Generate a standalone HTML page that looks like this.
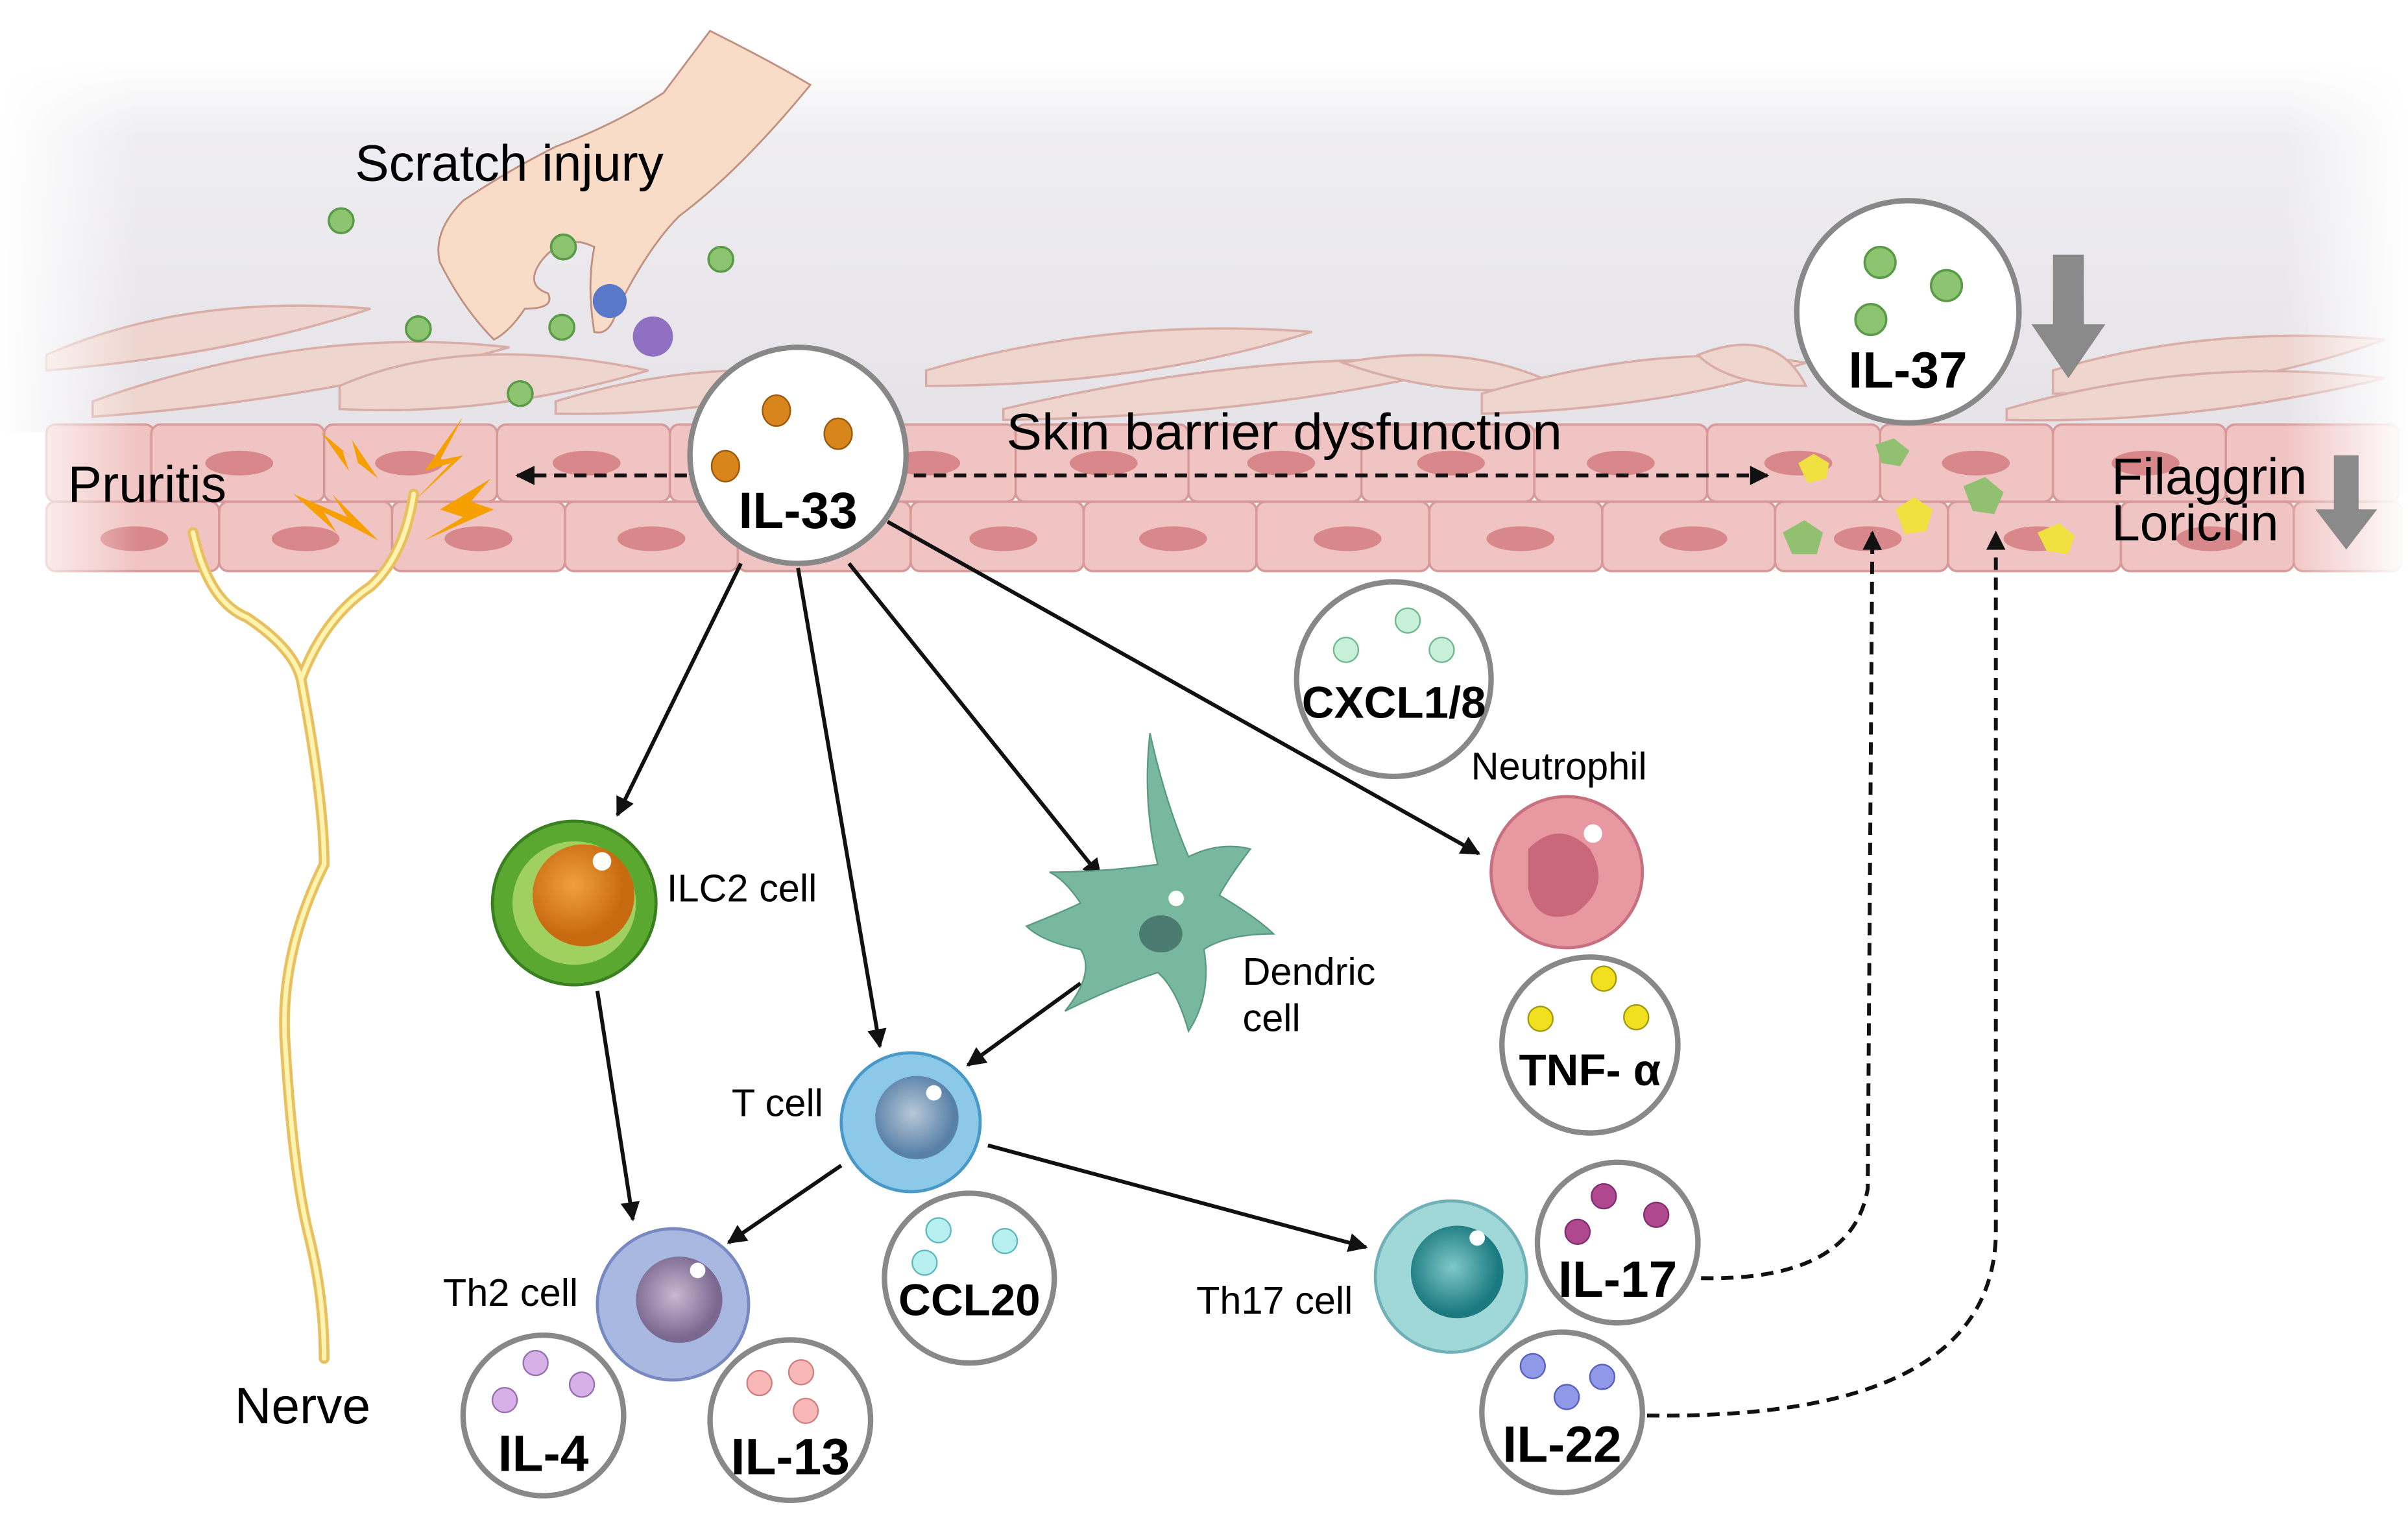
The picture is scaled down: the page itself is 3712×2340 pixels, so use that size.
<!DOCTYPE html>
<html><head><meta charset="utf-8"><style>
html,body{margin:0;padding:0;background:#fff;width:3712px;height:2340px;overflow:hidden}
svg{display:block}
text{font-family:"Liberation Sans",Arial,sans-serif}
</style></head><body>
<svg width="3712" height="2340" viewBox="0 0 1560 983.4" preserveAspectRatio="none" xmlns="http://www.w3.org/2000/svg">
<defs>
<linearGradient id="bg" x1="0" y1="0" x2="0" y2="1">
<stop offset="0" stop-color="#fff"/><stop offset="0.2" stop-color="#eeedf0"/><stop offset="1" stop-color="#e6e3e8"/></linearGradient>
<linearGradient id="fadeL" x1="0" y1="0" x2="1" y2="0"><stop offset="0" stop-color="#fff" stop-opacity="1"/><stop offset="1" stop-color="#fff" stop-opacity="0"/></linearGradient>
<linearGradient id="fadeR" x1="1" y1="0" x2="0" y2="0"><stop offset="0" stop-color="#fff" stop-opacity="1"/><stop offset="1" stop-color="#fff" stop-opacity="0"/></linearGradient>
<radialGradient id="ilc" cx="0.4" cy="0.4"><stop offset="0" stop-color="#f0a040"/><stop offset="1" stop-color="#c86a10"/></radialGradient>
<radialGradient id="tc" cx="0.45" cy="0.45"><stop offset="0" stop-color="#b8c8d8"/><stop offset="1" stop-color="#5880a8"/></radialGradient>
<radialGradient id="th2" cx="0.45" cy="0.45"><stop offset="0" stop-color="#c8b8d0"/><stop offset="1" stop-color="#7a6890"/></radialGradient>
<radialGradient id="th17" cx="0.45" cy="0.45"><stop offset="0" stop-color="#80c8c8"/><stop offset="1" stop-color="#1a7a80"/></radialGradient>
<marker id="ah" viewBox="0 0 10 10" refX="9" refY="5" markerWidth="5" markerHeight="5" orient="auto-start-reverse"><path d="M0,0L10,5L0,10z" fill="#111"/></marker>
</defs>
<rect x="0" y="40" width="1560" height="240" fill="url(#bg)"/>
<g fill="#efd4cc" stroke="#d8a8a0" stroke-width="1.5" opacity="0.9">
<path d="M30,230 Q120,190 240,200 Q150,230 30,240z"/>
<path d="M60,260 Q200,210 330,225 Q200,260 60,270z"/>
<path d="M220,250 Q300,215 420,240 Q320,270 220,265z"/>
<path d="M360,260 Q460,230 540,245 Q460,270 360,268z"/>
<path d="M600,240 Q720,205 850,215 Q740,250 600,250z"/>
<path d="M650,265 Q820,225 960,235 Q820,270 650,272z"/>
<path d="M870,235 Q950,220 1010,250 Q940,260 870,235z"/>
<path d="M960,255 Q1080,220 1170,235 Q1080,265 960,268z"/>
<path d="M1100,230 Q1150,210 1170,250 Q1120,250 1100,230z"/>
<path d="M1330,240 Q1430,210 1545,220 Q1450,255 1330,255z"/>
<path d="M1300,265 Q1420,230 1545,245 Q1420,275 1300,272z"/>
</g>
<g fill="#f0c4c2" stroke="#d89a98" stroke-width="1.5">
<rect x="30" y="275" width="70" height="50" rx="6"/><rect x="98" y="275" width="112" height="50" rx="6"/><rect x="210" y="275" width="112" height="50" rx="6"/><rect x="322" y="275" width="112" height="50" rx="6"/><rect x="434" y="275" width="112" height="50" rx="6"/><rect x="546" y="275" width="112" height="50" rx="6"/><rect x="658" y="275" width="112" height="50" rx="6"/><rect x="770" y="275" width="112" height="50" rx="6"/><rect x="882" y="275" width="112" height="50" rx="6"/><rect x="994" y="275" width="112" height="50" rx="6"/><rect x="1106" y="275" width="112" height="50" rx="6"/><rect x="1218" y="275" width="112" height="50" rx="6"/><rect x="1330" y="275" width="112" height="50" rx="6"/><rect x="1442" y="275" width="112" height="50" rx="6"/>
<rect x="30" y="325" width="112" height="45" rx="6"/><rect x="142" y="325" width="112" height="45" rx="6"/><rect x="254" y="325" width="112" height="45" rx="6"/><rect x="366" y="325" width="112" height="45" rx="6"/><rect x="478" y="325" width="112" height="45" rx="6"/><rect x="590" y="325" width="112" height="45" rx="6"/><rect x="702" y="325" width="112" height="45" rx="6"/><rect x="814" y="325" width="112" height="45" rx="6"/><rect x="926" y="325" width="112" height="45" rx="6"/><rect x="1038" y="325" width="112" height="45" rx="6"/><rect x="1150" y="325" width="112" height="45" rx="6"/><rect x="1262" y="325" width="112" height="45" rx="6"/><rect x="1374" y="325" width="112" height="45" rx="6"/><rect x="1486" y="325" width="70" height="45" rx="6"/>
</g>
<g fill="#d8888a">
<ellipse cx="155" cy="300" rx="22" ry="8"/><ellipse cx="265" cy="300" rx="22" ry="8"/><ellipse cx="380" cy="300" rx="22" ry="8"/><ellipse cx="600" cy="300" rx="22" ry="8"/><ellipse cx="715" cy="300" rx="22" ry="8"/><ellipse cx="830" cy="300" rx="22" ry="8"/><ellipse cx="940" cy="300" rx="22" ry="8"/><ellipse cx="1050" cy="300" rx="22" ry="8"/><ellipse cx="1165" cy="300" rx="22" ry="8"/><ellipse cx="1280" cy="300" rx="22" ry="8"/><ellipse cx="1390" cy="300" rx="22" ry="8"/>
<ellipse cx="87" cy="349" rx="22" ry="8"/><ellipse cx="198" cy="349" rx="22" ry="8"/><ellipse cx="310" cy="349" rx="22" ry="8"/><ellipse cx="422" cy="349" rx="22" ry="8"/><ellipse cx="650" cy="349" rx="22" ry="8"/><ellipse cx="760" cy="349" rx="22" ry="8"/><ellipse cx="873" cy="349" rx="22" ry="8"/><ellipse cx="985" cy="349" rx="22" ry="8"/><ellipse cx="1097" cy="349" rx="22" ry="8"/><ellipse cx="1210" cy="349" rx="22" ry="8"/><ellipse cx="1320" cy="349" rx="22" ry="8"/><ellipse cx="1432" cy="349" rx="22" ry="8"/>
</g>
<rect x="0" y="40" width="90" height="340" fill="url(#fadeL)"/>
<rect x="1480" y="40" width="80" height="340" fill="url(#fadeR)"/>
<path d="M460,20 Q500,40 525,55 Q480,110 440,140 Q420,160 400,200 Q395,218 385,215 Q380,185 385,160 Q365,150 350,170 Q340,185 355,190 Q360,200 340,200 Q330,215 320,220 Q300,200 285,170 Q280,150 300,130 Q330,110 360,95 Q400,80 430,60z" fill="#f8dcc8" stroke="#c09080" stroke-width="1.2"/>
<g fill="#8cc470" stroke="#5a9a48" stroke-width="1.5">
<circle cx="221" cy="143" r="8"/><circle cx="365" cy="160" r="8"/><circle cx="467" cy="168" r="8"/><circle cx="271" cy="213" r="8"/><circle cx="364" cy="212" r="8"/><circle cx="337" cy="255" r="8"/>
</g>
<circle cx="395" cy="195" r="11" fill="#5a78c8"/><circle cx="423" cy="218" r="13" fill="#9070c0"/>
<g fill="#f5a000"><path d="M208,280 L232,300 L228,285 L245,310 L222,292 L226,305z"/><path d="M300,270 L275,305 L292,300 L268,325 L300,295 L285,298z"/><path d="M190,320 L225,335 L215,320 L245,350 L210,332 L218,345z"/><path d="M318,310 L285,330 L300,335 L275,350 L320,330 L305,325z"/></g>
<g fill="none" stroke="#e8c060" stroke-width="7" stroke-linecap="round"><path d="M125,345 Q135,390 160,400 Q190,420 195,440 Q210,520 210,560 Q180,620 185,680 Q190,760 200,800 Q210,840 210,880"/><path d="M268,320 Q262,360 240,380 Q210,400 195,440"/></g>
<g fill="none" stroke="#fff3b0" stroke-width="3" stroke-linecap="round"><path d="M125,345 Q135,390 160,400 Q190,420 195,440 Q210,520 210,560 Q180,620 185,680 Q190,760 200,800 Q210,840 210,880"/><path d="M268,320 Q262,360 240,380 Q210,400 195,440"/></g>
<g stroke-width="1"><path d="M1165,300 l10,-6 l10,6 l-2,10 l-12,3z" fill="#f0e040"/><path d="M1215,288 l12,-4 l10,8 l-6,10 l-12,-2z" fill="#90c070"/><path d="M1228,330 l12,-8 l12,8 l-4,14 l-14,2z" fill="#f0e040"/><path d="M1155,345 l14,-8 l12,8 l-4,14 l-16,0z" fill="#90c070"/><path d="M1272,315 l14,-6 l12,10 l-6,14 l-14,-2z" fill="#90c070"/><path d="M1320,345 l14,-6 l10,8 l-4,12 l-14,-2z" fill="#f0e040"/></g>
<path d="M1330,165 h20 v45 h14 l-24,35 l-24,-35 h14z" fill="#8a8a8a"/>
<path d="M1512,295 h16 v35 h12 l-20,26 l-20,-26 h12z" fill="#8a8a8a"/>
<g stroke="#111" stroke-width="2.5" stroke-dasharray="8,5" fill="none">
<line x1="445" y1="308" x2="335" y2="308" marker-end="url(#ah)"/>
<line x1="592" y1="308" x2="1145" y2="308" marker-end="url(#ah)"/>
<path d="M1102,828 Q1200,830 1210,770 L1213,345" marker-end="url(#ah)"/>
<path d="M1067,917 Q1290,920 1293,800 L1293,345" marker-end="url(#ah)"/>
</g>
<g stroke="#111" stroke-width="2.5" fill="none" marker-end="url(#ah)">
<line x1="480" y1="365" x2="400" y2="528"/>
<line x1="517" y1="368" x2="570" y2="678"/>
<line x1="550" y1="365" x2="713" y2="568"/>
<line x1="575" y1="338" x2="958" y2="553"/>
<line x1="387" y1="642" x2="410" y2="790"/>
<line x1="700" y1="637" x2="627" y2="690"/>
<line x1="545" y1="755" x2="472" y2="805"/>
<line x1="640" y1="742" x2="885" y2="808"/>
</g>
<circle cx="517" cy="295" r="70" fill="#fff" stroke="#888" stroke-width="3.5"/>
<g fill="#d8861c" stroke="#9a5a10" stroke-width="1"><ellipse cx="503" cy="266" rx="9" ry="10"/><ellipse cx="543" cy="281" rx="9" ry="10"/><ellipse cx="470" cy="302" rx="9" ry="10"/></g>
<text x="517" y="342" font-size="33" font-weight="bold" text-anchor="middle">IL-33</text>
<circle cx="1236" cy="202" r="72" fill="#fff" stroke="#888" stroke-width="3.5"/>
<g fill="#8cc470" stroke="#5a9a48" stroke-width="1.5"><circle cx="1218" cy="170" r="10"/><circle cx="1261" cy="185" r="10"/><circle cx="1212" cy="207" r="10"/></g>
<text x="1236" y="251" font-size="33" font-weight="bold" text-anchor="middle">IL-37</text>
<text x="230" y="117" font-size="33">Scratch injury</text>
<text x="652" y="291" font-size="33" textLength="360" lengthAdjust="spacingAndGlyphs">Skin barrier dysfunction</text>
<text x="44" y="325" font-size="33">Pruritis</text>
<text x="1368" y="320" font-size="33">Filaggrin</text>
<text x="1368" y="350" font-size="33">Loricrin</text>
<text x="152" y="922" font-size="33">Nerve</text>
<circle cx="903" cy="440" r="63" fill="#fff" stroke="#888" stroke-width="3.5"/>
<g fill="#c8f0d8" stroke="#70b890"><circle cx="872" cy="421" r="8"/><circle cx="912" cy="402" r="8"/><circle cx="934" cy="421" r="8"/></g>
<text x="903" y="465" font-size="29" font-weight="bold" text-anchor="middle">CXCL1/8</text>
<text x="953" y="505" font-size="25">Neutrophil</text>
<circle cx="1015" cy="565" r="49" fill="#e898a0" stroke="#c87080" stroke-width="2"/>
<path d="M990,550 Q1010,530 1030,550 Q1045,575 1020,592 Q995,600 990,575z" fill="#c8687a"/>
<circle cx="1032" cy="540" r="6" fill="#fff"/>
<circle cx="1030" cy="677" r="57" fill="#fff" stroke="#888" stroke-width="3.5"/>
<g fill="#f0e020" stroke="#a09a10"><circle cx="1039" cy="634" r="8"/><circle cx="998" cy="660" r="8"/><circle cx="1060" cy="659" r="8"/></g>
<text x="1030" y="703" font-size="29" font-weight="bold" text-anchor="middle">TNF- α</text>
<circle cx="372" cy="585" r="53" fill="#5aa830" stroke="#3a8020" stroke-width="2"/>
<circle cx="372" cy="585" r="40" fill="#a0d060"/>
<circle cx="378" cy="580" r="33" fill="url(#ilc)"/>
<circle cx="390" cy="558" r="6" fill="#fff"/>
<text x="432" y="584" font-size="25">ILC2 cell</text>
<path d="M750,560 Q740,520 745,475 Q755,520 770,555 Q790,545 810,550 Q795,570 790,580 Q815,595 825,605 Q795,605 780,615 Q785,645 770,668 Q762,640 750,630 Q720,640 690,655 Q710,630 700,615 Q675,610 665,600 Q690,590 700,585 Q690,570 680,565 Q715,565 750,560z" fill="#78b8a0" stroke="#5a9a80" stroke-width="1"/>
<ellipse cx="752" cy="605" rx="14" ry="12" fill="#4a7a70"/>
<circle cx="762" cy="582" r="5" fill="#fff"/>
<text x="805" y="638" font-size="25">Dendric</text>
<text x="805" y="668" font-size="25">cell</text>
<circle cx="590" cy="727" r="45" fill="#8cc8e8" stroke="#4898c8" stroke-width="2"/>
<circle cx="594" cy="724" r="27" fill="url(#tc)"/>
<circle cx="605" cy="708" r="5" fill="#fff"/>
<text x="474" y="723" font-size="25">T cell</text>
<circle cx="628" cy="828" r="55" fill="#fff" stroke="#888" stroke-width="3.5"/>
<g fill="#b8f0f0" stroke="#60b8c0"><circle cx="608" cy="797" r="8"/><circle cx="651" cy="804" r="8"/><circle cx="599" cy="818" r="8"/></g>
<text x="628" y="852" font-size="29" font-weight="bold" text-anchor="middle">CCL20</text>
<circle cx="436" cy="845" r="49" fill="#a8b8e0" stroke="#7888c0" stroke-width="2"/>
<circle cx="440" cy="842" r="28" fill="url(#th2)"/>
<circle cx="452" cy="823" r="5" fill="#fff"/>
<text x="287" y="846" font-size="25">Th2 cell</text>
<circle cx="352" cy="917" r="52" fill="#fff" stroke="#888" stroke-width="3.5"/>
<g fill="#d8b0e8" stroke="#9870b0"><circle cx="347" cy="883" r="8"/><circle cx="377" cy="897" r="8"/><circle cx="327" cy="907" r="8"/></g>
<text x="352" y="953" font-size="33" font-weight="bold" text-anchor="middle">IL-4</text>
<circle cx="512" cy="920" r="52" fill="#fff" stroke="#888" stroke-width="3.5"/>
<g fill="#f8b8b8" stroke="#d08080"><circle cx="492" cy="896" r="8"/><circle cx="519" cy="889" r="8"/><circle cx="522" cy="914" r="8"/></g>
<text x="512" y="955" font-size="33" font-weight="bold" text-anchor="middle">IL-13</text>
<circle cx="940" cy="827" r="49" fill="#a0d8d8" stroke="#70b0b8" stroke-width="2"/>
<circle cx="944" cy="824" r="30" fill="url(#th17)"/>
<circle cx="957" cy="802" r="5" fill="#fff"/>
<text x="775" y="851" font-size="25">Th17 cell</text>
<circle cx="1048" cy="805" r="52" fill="#fff" stroke="#888" stroke-width="3.5"/>
<g fill="#b04890" stroke="#803070"><circle cx="1039" cy="775" r="8"/><circle cx="1073" cy="787" r="8"/><circle cx="1022" cy="798" r="8"/></g>
<text x="1048" y="840" font-size="33" font-weight="bold" text-anchor="middle">IL-17</text>
<circle cx="1012" cy="915" r="52" fill="#fff" stroke="#888" stroke-width="3.5"/>
<g fill="#9098e8" stroke="#5860c0"><circle cx="993" cy="885" r="8"/><circle cx="1038" cy="892" r="8"/><circle cx="1015" cy="905" r="8"/></g>
<text x="1012" y="947" font-size="33" font-weight="bold" text-anchor="middle">IL-22</text>
</svg>
</body></html>
